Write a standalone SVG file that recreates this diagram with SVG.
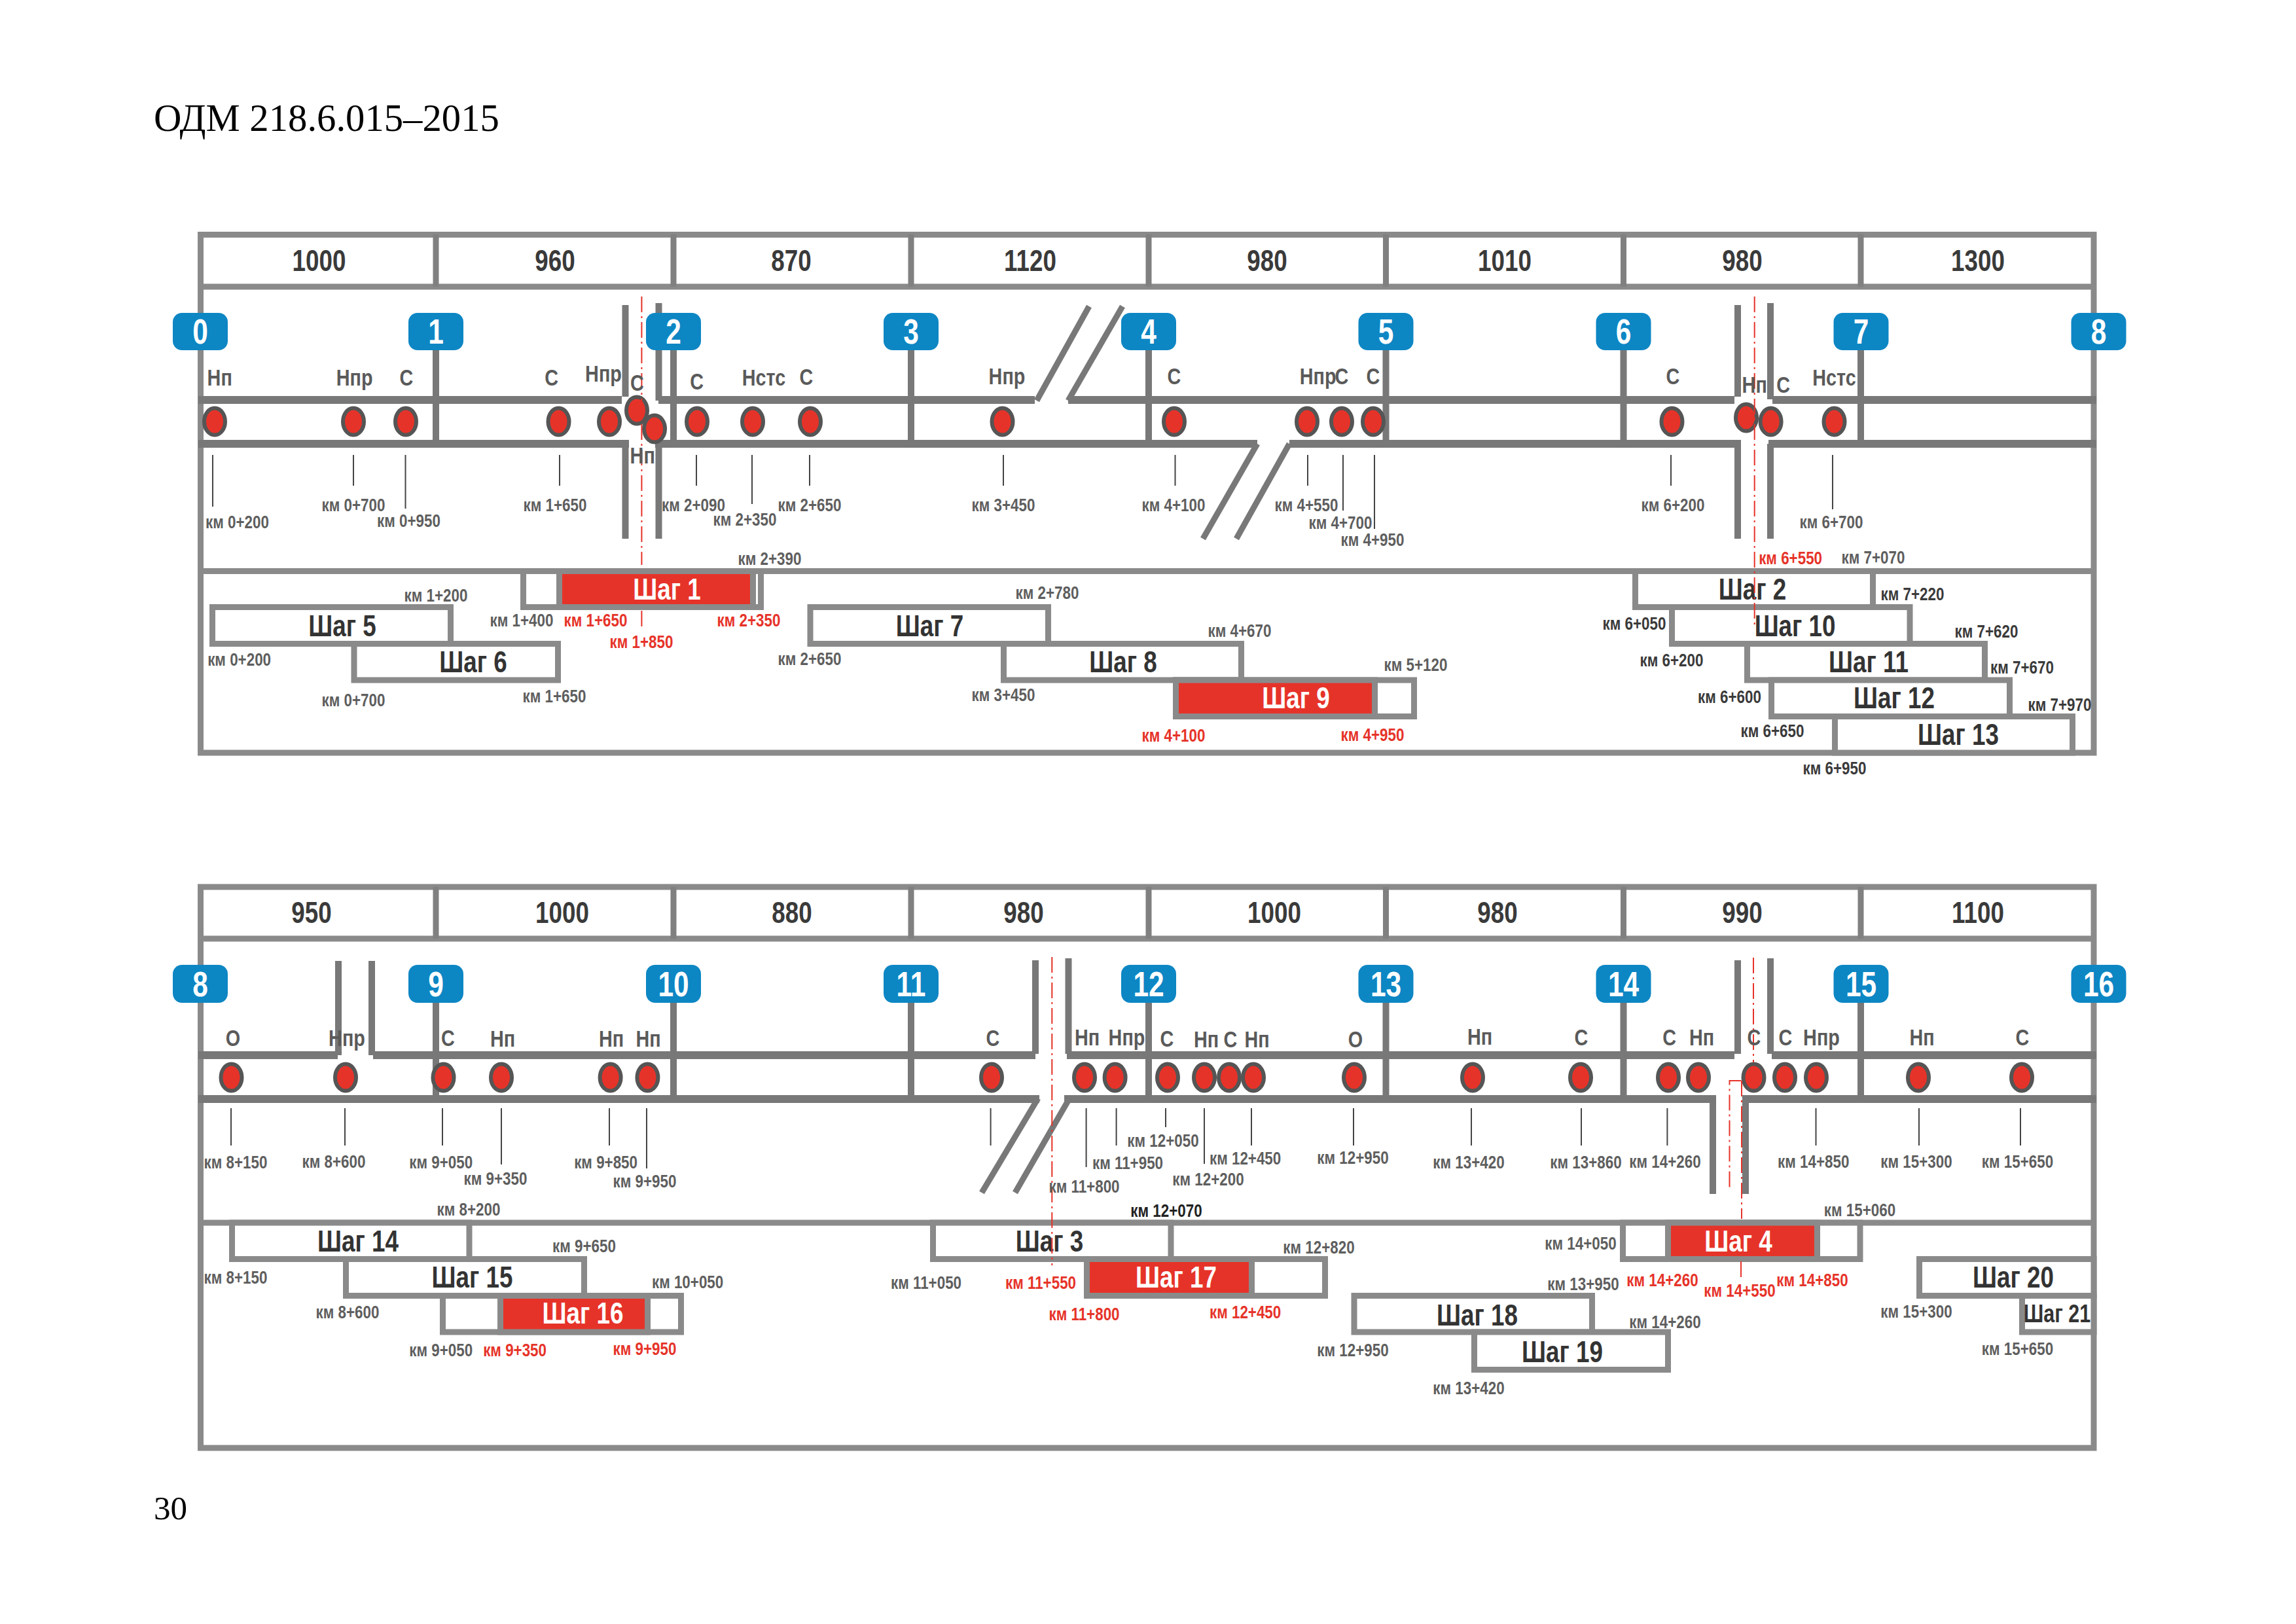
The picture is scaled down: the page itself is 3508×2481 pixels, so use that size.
<svg xmlns="http://www.w3.org/2000/svg" width="3508" height="2481" viewBox="0 0 3508 2481">
<style>
text{font-family:"Liberation Sans",Arial,sans-serif;text-anchor:middle;transform-box:fill-box;transform-origin:center;transform:scaleX(.8)}
.f{fill:none;stroke:#8a8a8a;stroke-width:9}
.d{stroke:#808080;stroke-width:9;fill:none}
.rd{fill:#787878}
.st{stroke:#787878;stroke-width:10;fill:none}
.tk{stroke:#444;stroke-width:2;fill:none}
.dash{stroke:#e63329;stroke-width:2;fill:none;stroke-dasharray:24 6 3 6}
.bd{fill:#0d86c4}
.bt{font-size:53px;font-weight:700;fill:#fff}
.dt{fill:#e63329;stroke:#555;stroke-width:6}
.s{fill:#fff;stroke:#8a8a8a;stroke-width:9}
.r{fill:#e63329;stroke:#8a8a8a;stroke-width:9}
.t{font-size:46px;font-weight:700;fill:#333}
.w{font-size:46px;font-weight:700;fill:#fff}
.n{font-size:46px;font-weight:700;fill:#3a3a3a}
.l{font-size:36px;font-weight:700;fill:#5a5a5a}
.k{font-size:28px;font-weight:700;fill:#5e5e5e}
.kd{font-size:28px;font-weight:700;fill:#3a3a3a}
.kr{font-size:28px;font-weight:700;fill:#e63329}
text.h{font-family:"Liberation Serif","Times New Roman",serif;font-size:58.700px;fill:#000;text-anchor:start;transform:none}
</style>
<rect width="3508" height="2481" fill="#fff"/>
<text class="h" x="235" y="200">ОДМ 218.6.015–2015</text>
<text class="h" x="235" y="2321" style="font-size:51px">30</text>

<g id="connectors">
<!-- panel 1 frame -->
<rect class="f" x="306.5" y="358.5" width="2892.5" height="791.5"/>
<path class="f" d="M306 438H3199M306 872.5H3199"/>
<path class="d" d="M666 358V438M1029 358V438M1392 358V438M1755 358V438M2117.500 358V438M2480.500 358V438M2843 358V438"/>
<path class="d" style="stroke:#787878;stroke-width:10" d="M666 535V684M1029 535V684M1392 535V684M1755 535V684M2117.500 535V684M2480.500 535V684M2843 535V684"/>
<rect class="rd" x="303" y="605" width="647" height="12"/><rect class="rd" x="1006" y="605" width="575" height="12"/><rect class="rd" x="1632" y="605" width="1018" height="12"/><rect class="rd" x="2708" y="605" width="495" height="12"/>
<rect class="rd" x="303" y="672" width="658" height="12"/><rect class="rd" x="1001" y="672" width="920" height="12"/><rect class="rd" x="1970" y="672" width="690" height="12"/><rect class="rd" x="2702" y="672" width="501" height="12"/>
<path class="st" d="M955.500 466V606M955.500 680V823M1006.500 463V612M1006.500 678V823M2655 466V606M2655 680V823M2705 463V610M2705 678V823"/>
<path class="st" d="M1584 612L1664 468M1632 612L1715 468M1921 678L1838 823M1970 678L1889 823" style="stroke-width:9"/>
<!-- panel 2 frame -->
<rect class="f" x="306.5" y="1355" width="2892.5" height="857"/>
<path class="f" d="M306 1434H3199M306 1868H3199"/>
<path class="d" d="M666 1355V1434M1029 1355V1434M1392 1355V1434M1755 1355V1434M2117.500 1355V1434M2480.500 1355V1434M2843 1355V1434"/>
<path class="d" style="stroke:#787878;stroke-width:10" d="M666 1532V1685M1029 1532V1685M1392 1532V1685M1755 1532V1685M2117.500 1532V1685M2480.500 1532V1685M2843 1532V1685"/>
<rect class="rd" x="303" y="1606" width="213" height="12"/><rect class="rd" x="570" y="1606" width="1012" height="12"/><rect class="rd" x="1630" y="1606" width="1020" height="12"/><rect class="rd" x="2707" y="1606" width="496" height="12"/>
<rect class="rd" x="303" y="1673" width="1285" height="12"/><rect class="rd" x="1626" y="1673" width="996" height="12"/><rect class="rd" x="2662" y="1673" width="541" height="12"/>
<path class="st" d="M517 1468V1612M568 1468V1612M1582 1467V1610M1632.500 1464V1610M2655 1467V1610M2705 1464V1610M2617 1680V1824M2667 1680V1824"/>
<path class="st" d="M1586 1678L1500 1822M1634 1678L1551 1822" style="stroke-width:9"/>
<!-- ticks -->
<path class="tk" d="M325 695V774M540 695V742M619.500 695V777M855 695V742M1064 695V742M1149 695V770M1237 695V742M1533 695V742M1795.500 695V742M1998 695V742M2052 695V780M2100 695V808M2553 695V742M2800 695V778"/>
<path class="tk" d="M353 1693V1750M527 1693V1750M676 1693V1750M766 1693V1779M931 1693V1750M988 1693V1785M1513.600 1693V1750M1659.600 1693V1783M1705.600 1693V1750M1781 1693V1722M1840 1693V1778M1912 1693V1750M2068 1693V1750M2248 1693V1750M2416 1693V1750M2547.400 1693V1750M2774.500 1693V1750M2932 1693V1750M3087 1693V1750"/>
</g>

<g id="badge-0"><rect class="bd" x="264" y="478" width="84" height="57" rx="14"/><text class="bt" x="306" y="525">0</text></g>
<g id="badge-1"><rect class="bd" x="624" y="478" width="84" height="57" rx="14"/><text class="bt" x="666" y="525">1</text></g>
<g id="badge-2"><rect class="bd" x="987" y="478" width="84" height="57" rx="14"/><text class="bt" x="1029" y="525">2</text></g>
<g id="badge-3"><rect class="bd" x="1350" y="478" width="84" height="57" rx="14"/><text class="bt" x="1392" y="525">3</text></g>
<g id="badge-4"><rect class="bd" x="1713" y="478" width="84" height="57" rx="14"/><text class="bt" x="1755" y="525">4</text></g>
<g id="badge-5"><rect class="bd" x="2075.500" y="478" width="84" height="57" rx="14"/><text class="bt" x="2117.500" y="525">5</text></g>
<g id="badge-6"><rect class="bd" x="2438.500" y="478" width="84" height="57" rx="14"/><text class="bt" x="2480.500" y="525">6</text></g>
<g id="badge-7"><rect class="bd" x="2801.500" y="478" width="84" height="57" rx="14"/><text class="bt" x="2843.500" y="525">7</text></g>
<g id="badge-8a"><rect class="bd" x="3164.500" y="478" width="84" height="57" rx="14"/><text class="bt" x="3206.500" y="525">8</text></g>
<g id="badge-8b"><rect class="bd" x="264" y="1474" width="84" height="58" rx="14"/><text class="bt" x="306" y="1522">8</text></g>
<g id="badge-9"><rect class="bd" x="624" y="1474" width="84" height="58" rx="14"/><text class="bt" x="666" y="1522">9</text></g>
<g id="badge-10"><rect class="bd" x="987" y="1474" width="84" height="58" rx="14"/><text class="bt" x="1029" y="1522">10</text></g>
<g id="badge-11"><rect class="bd" x="1350" y="1474" width="84" height="58" rx="14"/><text class="bt" x="1392" y="1522">11</text></g>
<g id="badge-12"><rect class="bd" x="1713" y="1474" width="84" height="58" rx="14"/><text class="bt" x="1755" y="1522">12</text></g>
<g id="badge-13"><rect class="bd" x="2075.500" y="1474" width="84" height="58" rx="14"/><text class="bt" x="2117.500" y="1522">13</text></g>
<g id="badge-14"><rect class="bd" x="2438.500" y="1474" width="84" height="58" rx="14"/><text class="bt" x="2480.500" y="1522">14</text></g>
<g id="badge-15"><rect class="bd" x="2801.500" y="1474" width="84" height="58" rx="14"/><text class="bt" x="2843.500" y="1522">15</text></g>
<g id="badge-16"><rect class="bd" x="3164.500" y="1474" width="84" height="58" rx="14"/><text class="bt" x="3206.500" y="1522">16</text></g>

<g id="dots-1">
<ellipse class="dt" cx="328" cy="644" rx="16" ry="20.500"/><ellipse class="dt" cx="540" cy="644" rx="16" ry="20.500"/><ellipse class="dt" cx="620" cy="644" rx="16" ry="20.500"/><ellipse class="dt" cx="853.500" cy="644" rx="16" ry="20.500"/><ellipse class="dt" cx="931" cy="644" rx="16" ry="20.500"/><ellipse class="dt" cx="973" cy="627" rx="16" ry="20.500"/><ellipse class="dt" cx="1000" cy="655" rx="16" ry="20.500"/><ellipse class="dt" cx="1065" cy="644" rx="16" ry="20.500"/><ellipse class="dt" cx="1150" cy="644" rx="16" ry="20.500"/><ellipse class="dt" cx="1238" cy="644" rx="16" ry="20.500"/><ellipse class="dt" cx="1531.500" cy="644" rx="16" ry="20.500"/><ellipse class="dt" cx="1794" cy="644" rx="16" ry="20.500"/><ellipse class="dt" cx="1997" cy="644" rx="16" ry="20.500"/><ellipse class="dt" cx="2050" cy="644" rx="16" ry="20.500"/><ellipse class="dt" cx="2098" cy="644" rx="16" ry="20.500"/><ellipse class="dt" cx="2554.500" cy="644" rx="16" ry="20.500"/><ellipse class="dt" cx="2668" cy="638" rx="16" ry="20.500"/><ellipse class="dt" cx="2705.600" cy="644" rx="16" ry="20.500"/><ellipse class="dt" cx="2802.500" cy="644" rx="16" ry="20.500"/>
</g>
<g id="dots-2">
<ellipse class="dt" cx="353.500" cy="1646" rx="16" ry="20.500"/><ellipse class="dt" cx="528" cy="1646" rx="16" ry="20.500"/><ellipse class="dt" cx="677.500" cy="1646" rx="16" ry="20.500"/><ellipse class="dt" cx="766" cy="1646" rx="16" ry="20.500"/><ellipse class="dt" cx="932.600" cy="1646" rx="16" ry="20.500"/><ellipse class="dt" cx="989.400" cy="1646" rx="16" ry="20.500"/><ellipse class="dt" cx="1515" cy="1646" rx="16" ry="20.500"/><ellipse class="dt" cx="1657" cy="1646" rx="16" ry="20.500"/><ellipse class="dt" cx="1703.600" cy="1646" rx="16" ry="20.500"/><ellipse class="dt" cx="1784" cy="1646" rx="16" ry="20.500"/><ellipse class="dt" cx="1840" cy="1646" rx="16" ry="20.500"/><ellipse class="dt" cx="1878" cy="1646" rx="16" ry="20.500"/><ellipse class="dt" cx="1915" cy="1646" rx="16" ry="20.500"/><ellipse class="dt" cx="2069" cy="1646" rx="16" ry="20.500"/><ellipse class="dt" cx="2250" cy="1646" rx="16" ry="20.500"/><ellipse class="dt" cx="2415" cy="1646" rx="16" ry="20.500"/><ellipse class="dt" cx="2549" cy="1646" rx="16" ry="20.500"/><ellipse class="dt" cx="2595" cy="1646" rx="16" ry="20.500"/><ellipse class="dt" cx="2679.500" cy="1646" rx="16" ry="20.500"/><ellipse class="dt" cx="2727" cy="1646" rx="16" ry="20.500"/><ellipse class="dt" cx="2775" cy="1646" rx="16" ry="20.500"/><ellipse class="dt" cx="2931" cy="1646" rx="16" ry="20.500"/><ellipse class="dt" cx="3089" cy="1646" rx="16" ry="20.500"/>
</g>

<!-- steps panel 1 -->
<g id="step-5"><rect class="s" x="324.500" y="927.500" width="364" height="56"/><text class="t" x="523" y="972">Шаг 5</text></g>
<g id="step-6"><rect class="s" x="541" y="983.500" width="311.500" height="55.500"/><text class="t" x="723" y="1027">Шаг 6</text></g>
<g id="step-7"><rect class="s" x="1238" y="927.500" width="363.500" height="56"/><text class="t" x="1420.500" y="972">Шаг 7</text></g>
<g id="step-8"><rect class="s" x="1533.500" y="983.500" width="363" height="55.500"/><text class="t" x="1716" y="1027">Шаг 8</text></g>
<g id="step-1"><rect class="s" x="799.500" y="872.500" width="363" height="55"/><rect class="r" x="854.500" y="872.500" width="296" height="55"/><text class="w" x="1019" y="916">Шаг 1</text></g>
<g id="step-9"><rect class="s" x="1796.500" y="1039" width="364" height="55.500"/><rect class="r" x="1796.500" y="1039" width="304" height="55.500"/><text class="w" x="1980" y="1082">Шаг 9</text></g>
<g id="step-2"><rect class="s" x="2498.500" y="872.500" width="363" height="55"/><text class="t" x="2677.500" y="916">Шаг 2</text></g>
<g id="step-10"><rect class="s" x="2554.500" y="927.500" width="363.500" height="56"/><text class="t" x="2742.600" y="972">Шаг 10</text></g>
<g id="step-11"><rect class="s" x="2669.500" y="983.500" width="363" height="55.500"/><text class="t" x="2855" y="1027">Шаг 11</text></g>
<g id="step-12"><rect class="s" x="2706.500" y="1039" width="364" height="55.500"/><text class="t" x="2894" y="1082">Шаг 12</text></g>
<g id="step-13"><rect class="s" x="2803.500" y="1094.500" width="363" height="55.500"/><text class="t" x="2992" y="1138">Шаг 13</text></g>
<!-- steps panel 2 -->
<g id="step-14"><rect class="s" x="354.500" y="1868" width="362.500" height="55.500"/><text class="t" x="547" y="1912">Шаг 14</text></g>
<g id="step-15"><rect class="s" x="528.500" y="1923.500" width="364" height="56"/><text class="t" x="721.500" y="1967">Шаг 15</text></g>
<g id="step-16"><rect class="s" x="676.500" y="1979.500" width="364" height="55.500"/><rect class="r" x="764.500" y="1979.500" width="225" height="55.500"/><text class="w" x="890.500" y="2022">Шаг 16</text></g>
<g id="step-3"><rect class="s" x="1425.500" y="1868" width="363.500" height="55.500"/><text class="t" x="1603.500" y="1912">Шаг 3</text></g>
<g id="step-17"><rect class="s" x="1660.500" y="1923.500" width="364" height="56"/><rect class="r" x="1660.500" y="1923.500" width="252" height="56"/><text class="w" x="1797" y="1967">Шаг 17</text></g>
<g id="step-18"><rect class="s" x="2069" y="1979.500" width="363.500" height="55.500"/><text class="t" x="2257" y="2025">Шаг 18</text></g>
<g id="step-19"><rect class="s" x="2252.500" y="2035" width="296" height="57.500"/><text class="t" x="2387" y="2081">Шаг 19</text></g>
<g id="step-4"><rect class="s" x="2479.500" y="1868" width="362.500" height="55.500"/><rect class="r" x="2548.500" y="1868" width="228" height="55.500"/><text class="w" x="2656" y="1912">Шаг 4</text></g>
<g id="step-20"><rect class="s" x="2932.500" y="1923.500" width="266.500" height="56"/><text class="t" x="3076" y="1967">Шаг 20</text></g>
<g id="step-21"><rect class="s" x="3089.500" y="1979.500" width="109.500" height="55.500"/><text class="t" x="3143" y="2020" style="font-size:38px">Шаг 21</text></g>

<g id="dashes">
<path class="dash" d="M980.400 453V863M980.400 933V963"/>
<path class="dash" d="M2680.700 453V955"/>
<path class="dash" d="M1607.300 1462V1933"/>
<path class="dash" d="M2679 1463V1623M2660 1651H2642.500V1817M2661 1651V1862M2660 1927V1952"/>
</g>

<g id="table-labels">
<text class="n" x="487.500" y="414">1000</text><text class="n" x="848" y="414">960</text><text class="n" x="1209" y="414">870</text><text class="n" x="1574" y="414">1120</text><text class="n" x="1936" y="414">980</text><text class="n" x="2299" y="414">1010</text><text class="n" x="2662" y="414">980</text><text class="n" x="3022" y="414">1300</text>
<text class="n" x="476" y="1410">950</text><text class="n" x="859" y="1410">1000</text><text class="n" x="1210" y="1410">880</text><text class="n" x="1564" y="1410">980</text><text class="n" x="1947" y="1410">1000</text><text class="n" x="2288" y="1410">980</text><text class="n" x="2662" y="1410">990</text><text class="n" x="3022" y="1410">1100</text>
</g>
<g id="road-labels">
<text class="l" x="335.700" y="589">Нп</text><text class="l" x="541.700" y="589">Нпр</text><text class="l" x="621" y="589">С</text><text class="l" x="842.700" y="589">С</text><text class="l" x="922" y="583">Нпр</text><text class="l" x="973.400" y="597">С</text><text class="l" x="981.700" y="707.700">Нп</text><text class="l" x="1064.600" y="595">С</text><text class="l" x="1167" y="589">Нстс</text><text class="l" x="1232" y="588">С</text><text class="l" x="1538.500" y="587">Нпр</text><text class="l" x="1794" y="587">С</text><text class="l" x="2013.600" y="587">Нпр</text><text class="l" x="2050" y="587">С</text><text class="l" x="2098" y="587">С</text><text class="l" x="2556" y="587">С</text><text class="l" x="2680.700" y="600">Нп</text><text class="l" x="2724.700" y="600">С</text><text class="l" x="2802.500" y="589">Нстс</text>
<text class="l" x="356" y="1598">О</text><text class="l" x="530" y="1598">Нпр</text><text class="l" x="684.500" y="1598">С</text><text class="l" x="768" y="1599">Нп</text><text class="l" x="934" y="1599">Нп</text><text class="l" x="990.600" y="1599">Нп</text><text class="l" x="1517" y="1598">С</text><text class="l" x="1661" y="1597">Нп</text><text class="l" x="1721.500" y="1597">Нпр</text><text class="l" x="1783" y="1599">С</text><text class="l" x="1843" y="1600">Нп</text><text class="l" x="1880" y="1600">С</text><text class="l" x="1920.500" y="1600">Нп</text><text class="l" x="2071" y="1600">О</text><text class="l" x="2261" y="1596">Нп</text><text class="l" x="2416" y="1597">С</text><text class="l" x="2550.600" y="1597">С</text><text class="l" x="2600" y="1597">Нп</text><text class="l" x="2680" y="1597">С</text><text class="l" x="2728" y="1597">С</text><text class="l" x="2783" y="1597">Нпр</text><text class="l" x="2936.500" y="1597">Нп</text><text class="l" x="3090" y="1597">С</text>
</g>
<g id="km-labels">
<text class="k" x="362.500" y="807">км 0+200</text><text class="k" x="540" y="781">км 0+700</text><text class="k" x="624.500" y="805">км 0+950</text><text class="k" x="848" y="781">км 1+650</text><text class="k" x="1059.500" y="781">км 2+090</text><text class="k" x="1138" y="803">км 2+350</text><text class="k" x="1237" y="781">км 2+650</text><text class="k" x="1533" y="781">км 3+450</text><text class="k" x="1793" y="781">км 4+100</text><text class="k" x="1996" y="781">км 4+550</text><text class="k" x="2048" y="808">км 4+700</text><text class="k" x="2097" y="834">км 4+950</text><text class="k" x="2556" y="781">км 6+200</text><text class="k" x="2798" y="807">км 6+700</text>
<text class="k" x="666" y="919">км 1+200</text><text class="k" x="797" y="957">км 1+400</text><text class="kr" x="910" y="957">км 1+650</text><text class="kr" x="1144" y="957">км 2+350</text><text class="kr" x="980" y="990">км 1+850</text><text class="k" x="1176" y="863">км 2+390</text><text class="k" x="365.600" y="1017">км 0+200</text><text class="k" x="540" y="1079">км 0+700</text><text class="k" x="847" y="1073">км 1+650</text><text class="k" x="1237" y="1016">км 2+650</text><text class="k" x="1600" y="915">км 2+780</text><text class="k" x="1894" y="973">км 4+670</text><text class="k" x="1533" y="1071">км 3+450</text><text class="k" x="2163" y="1025">км 5+120</text><text class="kr" x="1793" y="1133">км 4+100</text><text class="kr" x="2097" y="1132">км 4+950</text><text class="kr" x="2735.600" y="862">км 6+550</text><text class="k" x="2862" y="861">км 7+070</text><text class="kd" x="2922" y="917">км 7+220</text><text class="kd" x="2497" y="962">км 6+050</text><text class="kd" x="3035" y="974">км 7+620</text><text class="kd" x="2554" y="1018">км 6+200</text><text class="kd" x="3089.500" y="1029">км 7+670</text><text class="kd" x="2642.500" y="1074">км 6+600</text><text class="kd" x="3147" y="1086">км 7+970</text><text class="kd" x="2708" y="1126">км 6+650</text><text class="kd" x="2803" y="1183">км 6+950</text>
<text class="k" x="360" y="1785">км 8+150</text><text class="k" x="510" y="1784">км 8+600</text><text class="k" x="673.700" y="1785">км 9+050</text><text class="k" x="757" y="1810">км 9+350</text><text class="k" x="925.600" y="1785">км 9+850</text><text class="k" x="985" y="1814">км 9+950</text><text class="k" x="1723" y="1786">км 11+950</text><text class="k" x="1777" y="1752">км 12+050</text><text class="k" x="1902.600" y="1779">км 12+450</text><text class="k" x="1846" y="1811">км 12+200</text><text class="k" x="1656.500" y="1822">км 11+800</text><text class="k" x="2067" y="1778">км 12+950</text><text class="k" x="2244" y="1785">км 13+420</text><text class="k" x="2423" y="1785">км 13+860</text><text class="k" x="2544" y="1784">км 14+260</text><text class="k" x="2770.700" y="1784">км 14+850</text><text class="k" x="2928" y="1784">км 15+300</text><text class="k" x="3082.500" y="1784">км 15+650</text>
<text class="k" x="716" y="1857">км 8+200</text><text class="k" x="892.400" y="1913">км 9+650</text><text class="k" x="360" y="1961">км 8+150</text><text class="k" x="1050.600" y="1968">км 10+050</text><text class="k" x="531" y="2014">км 8+600</text><text class="k" x="673.700" y="2072">км 9+050</text><text class="kr" x="786.600" y="2072">км 9+350</text><text class="kr" x="985" y="2070">км 9+950</text><text class="kd" x="1782" y="1859" style="fill:#222">км 12+070</text><text class="k" x="1415" y="1969">км 11+050</text><text class="kr" x="1590" y="1969">км 11+550</text><text class="k" x="2015" y="1915">км 12+820</text><text class="kr" x="1656.500" y="2017">км 11+800</text><text class="kr" x="1902.600" y="2014">км 12+450</text><text class="k" x="2067" y="2072">км 12+950</text><text class="k" x="2244" y="2130">км 13+420</text><text class="k" x="2415" y="1909">км 14+050</text><text class="k" x="2419" y="1971">км 13+950</text><text class="kr" x="2540" y="1965">км 14+260</text><text class="kr" x="2658" y="1981">км 14+550</text><text class="kr" x="2769" y="1965">км 14+850</text><text class="k" x="2544" y="2029">км 14+260</text><text class="k" x="2841.500" y="1858">км 15+060</text><text class="k" x="2928" y="2013">км 15+300</text><text class="k" x="3082.500" y="2070">км 15+650</text>
</g>
</svg>
